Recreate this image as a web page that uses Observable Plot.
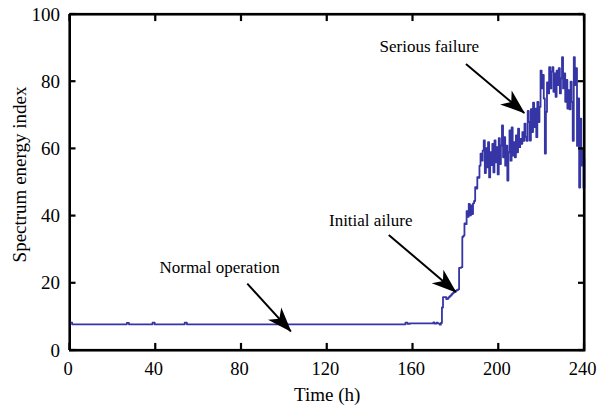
<!DOCTYPE html>
<html><head><meta charset="utf-8">
<script src="https://cdn.jsdelivr.net/npm/d3@7"></script>
<script src="https://cdn.jsdelivr.net/npm/@observablehq/plot@0.6"></script>
<style>
html,body{margin:0;padding:0;background:#fff;overflow:hidden;width:597px;height:408px}
#chart{width:597px;height:408px;overflow:hidden}
#chart svg{display:block}
</style>
</head><body><div id="chart"></div>
<script>
// Baseline (normal operation) followed by the failure development, hours vs spectrum energy index
const hours = [
  0, 1, 26.5, 27.5, 38.5, 39.5, 53.5, 54.5, 156.5, 157.5, 158.5, 169.5, 170, 171, 171.5,
  172, 172.5, 173, 173.5, 174, 174.5, 175, 175.5, 176, 176.5, 177, 177.5, 178, 178.5, 179, 179.5,
  180, 180.5, 181, 181.5, 182, 182.5, 183, 183.5, 184, 184.5, 185, 185.5, 186, 186.5, 187, 187.5,
  188, 188.5, 189, 189.5, 190, 190.5, 191, 191.5, 192, 192.5, 193, 193.5, 194, 194.5, 195, 195.5,
  196, 196.5, 197, 197.5, 198, 198.5, 199, 199.5, 200, 200.5, 201, 201.5, 202, 202.5, 203, 203.5,
  204, 204.5, 205, 205.5, 206, 206.5, 207, 207.5, 208, 208.5, 209, 209.5, 210, 210.5, 211, 211.5,
  212, 212.5, 213, 213.5, 214, 214.5, 215, 215.5, 216, 216.5, 217, 217.5, 218, 218.5, 219, 219.5,
  220, 220.5, 221, 221.5, 222, 222.5, 223, 223.5, 224, 224.5, 225, 225.5, 226, 226.5, 227, 227.5,
  228, 228.5, 229, 229.5, 230, 230.5, 231, 231.5, 232, 232.5, 233, 233.5, 234, 234.5, 235, 235.5,
  236, 236.5, 237, 237.5, 238, 238.5, 239, 239.5, 240
];
const energy = [
  8.3, 7.8, 8.2, 7.8, 8.3, 7.8, 8.3, 7.8, 8.3, 7.9, 8.1, 8.4, 8.0, 8.3, 8.1,
  8.0, 7.7, 8.2, 12.8, 15.9, 15.9, 15.9, 15.3, 15.4, 15.8, 16.1, 16.4, 16.8, 17.1, 17.4, 17.6,
  17.8, 18.0, 18.2, 24.6, 24.6, 24.8, 33.8, 34.2, 37.8, 37.6, 41.5, 39.8, 43.6, 40.2, 43.2, 40.6,
  43.8, 44.5, 48.6, 48.2, 51.6, 51.4, 55.0, 58.6, 56.5, 59.5, 62.5, 52.8, 60.2, 54.5, 62.0, 51.5,
  59.0, 55.2, 61.5, 53.0, 62.5, 56.0, 60.5, 52.4, 63.2, 55.5, 61.0, 67.0, 57.5, 63.5, 55.0, 61.0,
  50.6, 59.0, 65.5, 56.5, 66.4, 58.0, 62.0, 57.5, 64.0, 59.0, 66.0, 60.5, 63.0, 61.5, 65.0, 62.4,
  67.5, 63.5, 62.4, 71.3, 68.0, 62.5, 71.8, 65.0, 73.8, 66.5, 72.0, 63.5, 74.0, 68.0, 72.5, 83.3,
  78.0, 82.0, 75.0, 58.6, 71.0, 79.8, 76.5, 84.3, 78.0, 83.0, 84.3, 77.0, 82.5, 75.5, 83.3, 79.0,
  84.0, 76.5, 81.0, 87.3, 78.0, 82.5, 74.0, 80.5, 72.0, 77.5, 71.8, 80.0, 74.0, 62.4, 87.3, 79.0,
  84.0, 60.9, 75.0, 48.5, 69.0, 55.0, 60.0, 48.4, 57.0
];
const xTicks = [0, 40, 80, 120, 160, 200, 240];
const yTicks = [0, 20, 40, 60, 80, 100];
const xDomain = [0, 240];
const yDomain = [0, 100];

// Annotations (data coordinates)
const noteText = ["Normal operation", "Initial ailure", "Serious failure"];
const noteHour = [69.8, 140.3, 167.6];
const noteEnergy = [24.6, 38.8, 90.4];
const arrowFromHour = [82.7, 148.7, 184.7];
const arrowFromEnergy = [19.9, 34.4, 85.3];
const arrowToHour = [103, 180, 211.9];
const arrowToEnergy = [5.7, 17.4, 70.7];

const series = hours.map((h, i) => ({h, e: energy[i]}));
const notes = noteText.map((t, i) => ({
  t, x: noteHour[i], y: noteEnergy[i],
  x1: arrowFromHour[i], y1: arrowFromEnergy[i], x2: arrowToHour[i], y2: arrowToEnergy[i]
}));

const [xa, xb] = xDomain, [ya, yb] = yDomain;
const tickY = 2.1, tickX = 2.8;
// vertical strips (zero data width, widened by negative insets) and horizontal strips
const vStrips = [
  {x: xa, y1: ya, y2: yb}, {x: xb, y1: ya, y2: yb},
  ...xTicks.map(t => ({x: t, y1: ya, y2: ya + tickY})),
  ...xTicks.map(t => ({x: t, y1: yb - tickY, y2: yb}))
];
const hStrips = [
  {y: ya, x1: xa, x2: xb}, {y: yb, x1: xa, x2: xb},
  ...yTicks.map(v => ({y: v, x1: xa, x2: xa + tickX})),
  ...yTicks.map(v => ({y: v, x1: xb - tickX, x2: xb}))
];

function headMarker() {
  const m = d3.create("svg:marker")
    .attr("viewBox", "-26 -10 28 20")
    .attr("markerWidth", 28).attr("markerHeight", 20)
    .attr("markerUnits", "userSpaceOnUse")
    .attr("orient", "auto")
    .attr("refX", 0).attr("refY", 0);
  m.append("path").attr("d", "M1,0L-24,-9L-17,0L-24,9Z").attr("fill", "black").attr("stroke", "none");
  return m.node();
}

const font = "'Liberation Serif', 'Times New Roman', serif";
const chart = Plot.plot({
  width: 597, height: 408,
  marginLeft: 69.5, marginRight: 13, marginTop: 14, marginBottom: 58,
  style: {fontFamily: font, fontSize: "19px", background: "white", color: "black"},
  x: {domain: xDomain, ticks: xTicks, label: null, axis: null},
  y: {domain: yDomain, ticks: yTicks, label: null, axis: null},
  marks: [
    Plot.frame({stroke: "black", strokeWidth: 2}),
    Plot.line(series, {x: "h", y: "e", curve: "step-after", stroke: "#3535a5", strokeWidth: 1.8}),
    Plot.link(notes, {x1: "x1", y1: "y1", x2: "x2", y2: "y2", stroke: "black", strokeWidth: 2, markerEnd: headMarker}),
    Plot.text(notes, {x: "x", y: "y", text: "t", fontSize: 17, fill: "black"}),
    Plot.rect(vStrips, {x1: "x", x2: "x", y1: "y1", y2: "y2", fill: "black", insetLeft: -1.1, insetRight: -1.1}),
    Plot.rect(hStrips, {y1: "y", y2: "y", x1: "x1", x2: "x2", fill: "black", insetTop: -1.1, insetBottom: -1.1}),
    Plot.axisX({anchor: "bottom", ticks: xTicks, tickSize: 0, tickPadding: 11, fontSize: 18.5, dx: -2, label: null}),
    Plot.axisY({anchor: "left", ticks: yTicks, tickSize: 0, tickPadding: 10, fontSize: 19, label: null}),
    Plot.text(["Time (h)"], {frameAnchor: "bottom", dy: 50, fontSize: 19, fill: "black"}),
    Plot.text(["Spectrum energy index"], {frameAnchor: "left", textAnchor: "middle", dx: -50.5, dy: -8, rotate: -90, fontSize: 19, fill: "black"})
  ]
});
document.getElementById("chart").appendChild(chart);
</script>
</body></html>
